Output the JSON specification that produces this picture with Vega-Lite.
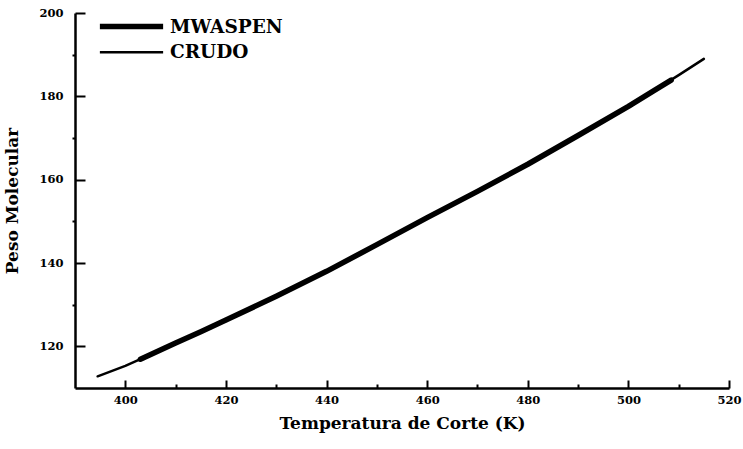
{
  "$schema": "https://vega.github.io/schema/vega-lite/v6.json",
  "autosize": {"type": "none"},
  "padding": {"left": 75, "top": 13, "right": 14, "bottom": 61},
  "width": 654,
  "height": 375,
  "background": "white",
  "config": {
    "view": {"stroke": null},
    "font": "DejaVu Serif",
    "axis": {
      "domainColor": "black",
      "domainWidth": 2.5,
      "tickColor": "black",
      "tickWidth": 2,
      "grid": false,
      "labelFlush": false,
      "labelFont": "DejaVu Serif",
      "labelFontWeight": "bold",
      "labelFontSize": 11.5,
      "labelColor": "black",
      "titleFont": "DejaVu Serif",
      "titleFontWeight": "bold",
      "titleFontSize": 17,
      "titleColor": "black"
    }
  },
  "data": {
    "values": [
      {"serie": "CRUDO", "temp": 394.5, "pm": 112.8},
      {"serie": "CRUDO", "temp": 400, "pm": 115.3},
      {"serie": "CRUDO", "temp": 405, "pm": 118.0},
      {"serie": "CRUDO", "temp": 410, "pm": 120.8},
      {"serie": "CRUDO", "temp": 415, "pm": 123.5},
      {"serie": "CRUDO", "temp": 420, "pm": 126.3},
      {"serie": "CRUDO", "temp": 430, "pm": 132.0},
      {"serie": "CRUDO", "temp": 440, "pm": 138.0},
      {"serie": "CRUDO", "temp": 450, "pm": 144.4},
      {"serie": "CRUDO", "temp": 460, "pm": 150.9},
      {"serie": "CRUDO", "temp": 470, "pm": 157.2},
      {"serie": "CRUDO", "temp": 480, "pm": 163.7},
      {"serie": "CRUDO", "temp": 490, "pm": 170.6},
      {"serie": "CRUDO", "temp": 500, "pm": 177.6},
      {"serie": "CRUDO", "temp": 505, "pm": 181.3},
      {"serie": "CRUDO", "temp": 510, "pm": 185.1},
      {"serie": "CRUDO", "temp": 515, "pm": 189.0},
      {"serie": "MWASPEN", "temp": 403, "pm": 116.9},
      {"serie": "MWASPEN", "temp": 410, "pm": 120.8},
      {"serie": "MWASPEN", "temp": 415, "pm": 123.5},
      {"serie": "MWASPEN", "temp": 420, "pm": 126.3},
      {"serie": "MWASPEN", "temp": 430, "pm": 132.0},
      {"serie": "MWASPEN", "temp": 440, "pm": 138.0},
      {"serie": "MWASPEN", "temp": 450, "pm": 144.4},
      {"serie": "MWASPEN", "temp": 460, "pm": 150.9},
      {"serie": "MWASPEN", "temp": 470, "pm": 157.2},
      {"serie": "MWASPEN", "temp": 480, "pm": 163.7},
      {"serie": "MWASPEN", "temp": 490, "pm": 170.6},
      {"serie": "MWASPEN", "temp": 500, "pm": 177.6},
      {"serie": "MWASPEN", "temp": 505, "pm": 181.3},
      {"serie": "MWASPEN", "temp": 508.5, "pm": 183.9}
    ]
  },
  "mark": {"type": "line", "color": "black", "strokeCap": "round", "strokeJoin": "round"},
  "encoding": {
    "x": {
      "field": "temp",
      "type": "quantitative",
      "scale": {"domain": [390, 520], "nice": false, "zero": false},
      "axis": {
        "title": "Temperatura de Corte  (K)",
        "values": [400, 410, 420, 430, 440, 450, 460, 470, 480, 490, 500, 510, 520],
        "labelExpr": "datum.value % 20 === 0 ? datum.label : ''",
        "tickSize": {"condition": {"test": "datum.value % 20 === 0", "value": -8}, "value": -4},
        "labelPadding": 14,
        "titlePadding": 10
      }
    },
    "y": {
      "field": "pm",
      "type": "quantitative",
      "scale": {"domain": [110, 200], "nice": false, "zero": false},
      "axis": {
        "title": "Peso Molecular",
        "values": [120, 130, 140, 150, 160, 170, 180, 190, 200],
        "labelExpr": "datum.value % 20 === 0 ? datum.label : ''",
        "tickSize": {"condition": {"test": "datum.value % 20 === 0", "value": -10}, "value": 3},
        "labelPadding": 22,
        "titlePadding": 17
      }
    },
    "strokeWidth": {
      "field": "serie",
      "type": "nominal",
      "scale": {"domain": ["MWASPEN", "CRUDO"], "range": [5.5, 2.5]},
      "legend": {
        "title": null,
        "orient": "none",
        "legendX": 47,
        "legendY": 4,
        "symbolType": "M-5,0H5",
        "symbolSize": 160,
        "symbolStrokeColor": "black",
        "symbolFillColor": "transparent",
        "labelOffset": 29,
        "labelFont": "DejaVu Serif",
        "labelFontWeight": "bold",
        "labelFontSize": 18.5,
        "labelColor": "black",
        "rowPadding": 5
      }
    },
    "detail": {"field": "serie"}
  }
}
